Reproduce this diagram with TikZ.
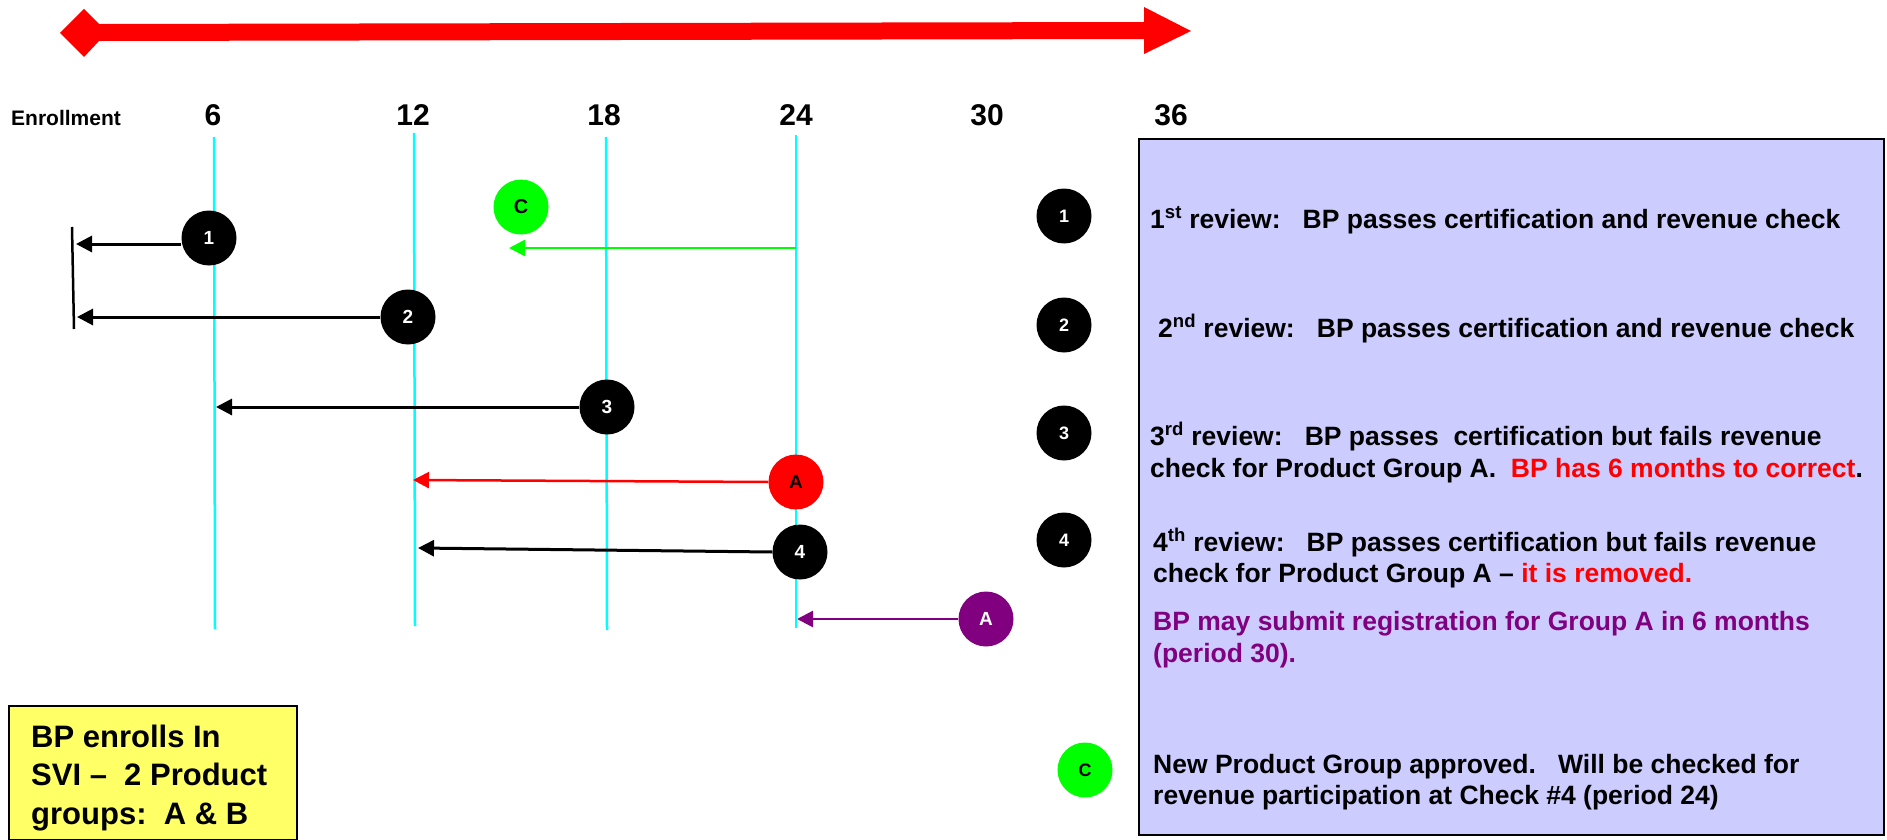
\documentclass[tikz,border=0pt]{standalone}
\usepackage{fontspec}
\setmainfont{Liberation Sans}
\usetikzlibrary{arrows.meta}
\definecolor{boxblue}{HTML}{CCCCFF}
\definecolor{noteyellow}{HTML}{FFFF66}
\definecolor{mypurple}{HTML}{800080}
\definecolor{myred}{HTML}{FF0000}
\definecolor{mygreen}{HTML}{00FF00}
\definecolor{mycyan}{HTML}{00FFFF}
\newcommand{\fs}[1]{\fontsize{#1}{#1}\selectfont\bfseries}
\begin{document}
\begin{tikzpicture}[x=1pt,y=-1pt,
  dot/.style={circle, minimum size=55pt, inner sep=0pt, font=\fs{19}},
  blackdot/.style={dot, fill=black, text=white},
  timeline/.style={mycyan, line width=2.5pt},
  conn/.style={line width=3pt, -{Triangle[length=16pt,width=16pt]}},
  thin conn/.style={line width=2.5pt, -{Triangle[length=16pt,width=16pt]}},
  head/.style={inner sep=0pt, anchor=base, font=\fs{30}},
  txt/.style={inner sep=0pt, anchor=base west, font=\fs{26.5}},
  notetxt/.style={inner sep=0pt, anchor=base west, font=\fs{31}},
]
\useasboundingbox (0,0) rectangle (1887,840);

% period axis arrow
\fill[myred] (60,33) -- (84,9) -- (99,24) -- (1144,22) -- (1144,7) -- (1191,31)
  -- (1144,54) -- (1144,39) -- (99,41) -- (84,57) -- cycle;

% header labels
\node[inner sep=0pt, anchor=base, font=\fs{21}] (enr) at (66,125) {Enrollment};
\node[head] (p6)  at (213,125) {6};
\node[head] (p12) at (413,125) {12};
\node[head] (p18) at (604,125) {18};
\node[head] (p24) at (796,125) {24};
\node[head] (p30) at (987,125) {30};
\node[head] (p36) at (1171,125) {36};

% review period lines
\coordinate (l6t) at (214,137);  \coordinate (l6b) at (215,629);
\coordinate (l12t) at (414,133); \coordinate (l12b) at (415,626);
\coordinate (l18t) at (606,137); \coordinate (l18b) at (607,630);
\coordinate (l24t) at (796,135); \coordinate (l24b) at (796,628);
\draw[timeline] (l6t) -- (l6b);
\draw[timeline] (l12t) -- (l12b);
\draw[timeline] (l18t) -- (l18b);
\draw[timeline] (l24t) -- (l24b);

% enrollment bar
\coordinate (bt) at (72,227);
\coordinate (bb) at (74,329);
\draw[line width=2.5pt] (bt) -- (bb);

% arrow end points
\coordinate (e1) at (76,244);
\coordinate (e2) at (77,317);
\coordinate (e3) at (216,407);
\coordinate (gS) at (796,248);
\coordinate (gE) at (509,248);
\coordinate (eA) at (413,480);
\coordinate (e4) at (418,548);
\coordinate (eP) at (797,619);

% review markers
\node[blackdot] (c1) at (209,238) {1};
\node[blackdot] (c2) at (408,317) {2};
\node[blackdot] (c3) at (607,407) {3};
\node[dot, fill=myred, text=black] (cA) at (796,482) {A};
\node[blackdot] (c4) at (800,552) {4};
\node[dot, fill=mypurple, text=white] (cP) at (986,619) {A};
\node[dot, fill=mygreen, text=black, font=\fs{20}] (cC) at (521,207) {C};

% connectors
\draw[conn] (e1 -| c1.west) -- (e1);
\draw[conn] (c2.west) -- (e2);
\draw[conn] (c3.west) -- (e3);
\draw[thin conn, mygreen] (gS) -- (gE);
\draw[thin conn, myred] (cA.west) -- (eA);
\draw[conn] (c4.west) -- (e4);
\draw[thin conn, mypurple] (cP.west) -- (eP);

% legend panel
\node[draw=black, line width=2pt, fill=boxblue, inner sep=0pt, anchor=north west,
  minimum width=745pt, minimum height=696pt] (panel) at (1138,138) {};

\node[blackdot, font=\fs{18}] (k1) at (1064,216) {1};
\node[blackdot, font=\fs{18}] (k2) at (1064,325) {2};
\node[blackdot, font=\fs{18}] (k3) at (1064,433) {3};
\node[blackdot, font=\fs{18}] (k4) at (1064,540) {4};
\node[dot, fill=mygreen, text=black, font=\fs{18}] (kC) at (1085,770) {C};

\node[txt] (t1) at (1150,228) {1\textsuperscript{st} review:\ \ \ BP passes certification and revenue check};
\node[txt] (t2) at (1158,337) {2\textsuperscript{nd} review:\ \ \ BP passes certification and revenue check};
\node[txt] (t3a) at (1150,445) {3\textsuperscript{rd} review:\ \ \ BP passes\ \ certification but fails revenue};
\node[txt] (t3b) at (1150,477) {check for Product Group A.\ \ \textcolor{myred}{BP has 6 months to correct}.};
\node[txt] (t4a) at (1153,551) {4\textsuperscript{th} review:\ \ \ BP passes certification but fails revenue};
\node[txt] (t4b) at (1153,582) {check for Product Group A -- \textcolor{myred}{it is removed.}};
\node[txt, text=mypurple] (t5a) at (1153,630) {BP may submit registration for Group A in 6 months};
\node[txt, text=mypurple] (t5b) at (1153,662) {(period 30).};
\node[txt] (t6a) at (1153,773) {New Product Group approved.\ \ \ Will be checked for};
\node[txt] (t6b) at (1153,804) {revenue participation at Check \#4 (period 24)};

% enrollment note
\node[draw=black, line width=2pt, fill=noteyellow, inner sep=0pt, anchor=north west,
  minimum width=288pt, minimum height=134pt] (note) at (8,705) {};
\node[notetxt] (n1) at (31,747) {BP enrolls In};
\node[notetxt] (n2) at (31,785) {SVI --\ \ 2 Product};
\node[notetxt] (n3) at (31,824) {groups:\ \ A \& B};
\end{tikzpicture}
\end{document}
